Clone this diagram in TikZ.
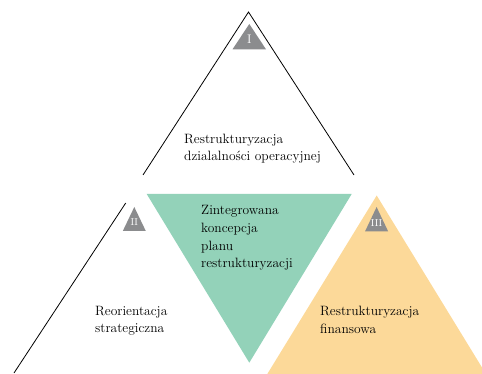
\documentclass[tikz,border=0pt]{standalone}
\usepackage{fontspec}
\definecolor{greenfill}{HTML}{93D2B9}
\definecolor{orangefill}{HTML}{FCD999}
\definecolor{badgegrey}{HTML}{8B8C8E}
\begin{document}
\begin{tikzpicture}[x=1pt,y=-1pt,
  caption/.style={anchor=base west,align=left,inner sep=0pt,
    font=\fontsize{13.5}{17.6}\selectfont},
  numeral/.style={text=white,inner sep=0pt,font=\fontsize{10}{10}\selectfont}]
\def\toptri{(143,175) -- (248.5,12) -- (354,175)}
\def\greentri{(146.7,194) -- (351.7,194) -- (249.3,362.7) -- cycle}
\def\orangetri{(267.3,374) -- (376.7,195.5) -- (486,374) -- cycle}
\def\leftside{(125.7,203) -- (14,373)}

\useasboundingbox (0,0) rectangle (482,374);

\begin{scope} % keep the orange one inside the page
\clip (0,0) rectangle (482,374);
\fill[orangefill] \orangetri;
\end{scope}
\fill[greenfill] \greentri;

\draw[line width=0.8pt] \toptri;
\draw[line width=0.8pt] \leftside;

% grey badges with the numbers
\fill[badgegrey] (232.5,49.3) -- (249.3,24) -- (266,49.3) -- cycle;
\fill[badgegrey] (122.8,231) -- (134.3,207) -- (145.8,231) -- cycle;
\fill[badgegrey] (365,231.5) -- (376.6,207) -- (388.2,231.5) -- cycle;
\node[numeral,font=\fontsize{12.5}{12.5}\selectfont] (one) at (249.3,39.5) {I};
\node[numeral] (two) at (134.3,222) {II};
\node[numeral] (three) at (376.6,223) {III};

% last line baselines
\node[caption] (operations) at (184,160.9) {Restrukturyzacja\\dzialalności operacyjnej};
\node[caption] (concept) at (201,267.8) {Zintegrowana\\koncepcja\\planu\\restrukturyzacji};
\node[caption] (strategy) at (95,332.6) {Reorientacja\\strategiczna};
\node[caption] (finance) at (320,333.3) {Restrukturyzacja\\finansowa};
\end{tikzpicture}
\end{document}
